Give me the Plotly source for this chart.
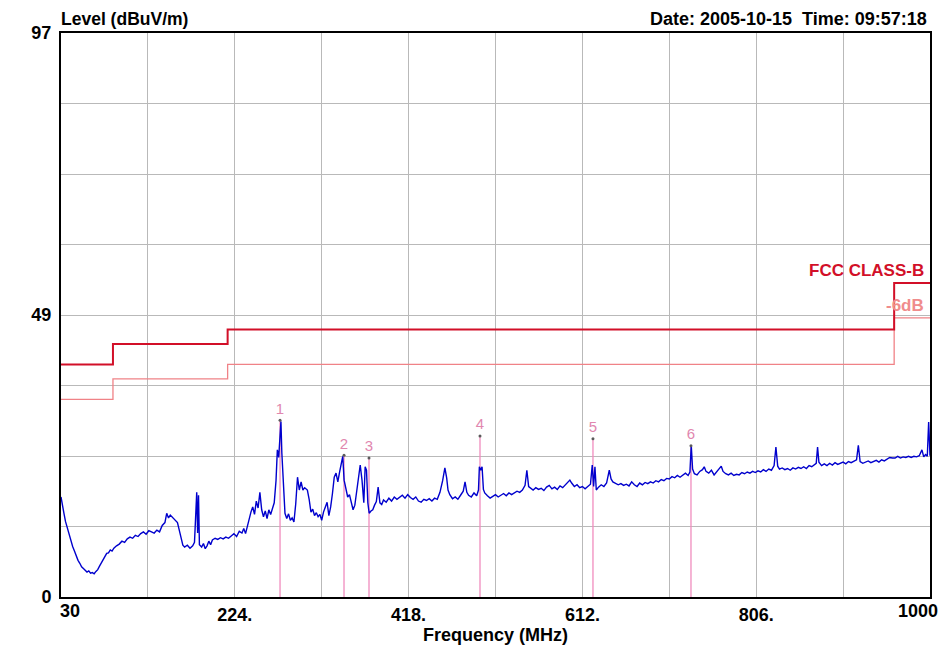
import plotly.graph_objects as go

# ---------------- data ----------------
spec_freq = [
    30, 31, 32, 33.5, 35, 37, 39, 41, 43, 45, 47, 49, 51, 53, 55, 57, 59, 61, 63, 65, 67, 69, 71, 73, 75, 77, 79, 81, 83, 85, 87, 89,
    92, 95, 98, 101, 104, 107, 110, 113, 116, 119, 122, 125, 128, 131, 134, 137, 140, 143, 146, 148, 150, 152, 154, 157, 160, 162,
    164, 166, 168, 171, 174, 177, 179, 180.5, 181.5, 182.5, 183.5, 184.5, 187, 189, 191, 193, 195, 197, 199, 202, 205, 208, 211,
    214, 217, 220, 223, 226, 229, 232, 234, 236, 238, 240, 242, 244, 246, 248, 250, 252, 254, 256, 258, 260, 262, 264, 266, 268,
    270, 271.5, 273, 274.5, 275.5, 276.5, 278, 280, 282, 284, 286, 288, 290, 292, 294, 296, 298, 300, 302, 305, 307, 309, 311,
    313, 315, 317, 319, 321, 323, 325, 327, 329, 331, 333, 335, 337, 339, 341, 343, 344.5, 346, 348, 350, 352, 354, 356, 358, 360,
    362, 364, 366, 368, 369.5, 371, 372.5, 374, 376, 378, 380, 382, 384, 386, 388, 390, 393, 396, 399, 402, 405, 408, 411, 414,
    417, 420, 423, 426, 429, 432, 435, 438, 441, 444, 447, 450, 453, 456, 458.5, 460.5, 462, 464, 467, 470, 473, 476, 479, 481,
    483, 485, 488, 491, 494, 496, 497, 498.5, 500, 501.5, 503, 506, 509, 512, 515, 518, 521, 524, 527, 530, 533, 536, 539, 542,
    545, 548, 550, 552, 554, 557, 560, 563, 566, 569, 572, 575, 578, 581, 584, 587, 590, 593, 596, 598, 600, 603, 606, 609, 612,
    615, 618, 621, 623, 624.5, 626, 627.5, 630, 633, 636, 639, 642, 644, 646, 649, 652, 655, 658, 661, 664, 667, 670, 673, 676,
    679, 682, 685, 688, 691, 694, 697, 700, 703, 706, 709, 712, 715, 718, 721, 724, 727, 730, 732, 733.5, 735, 737, 740, 743, 746,
    748, 750, 753, 756, 759, 762, 765, 767, 769, 772, 775, 778, 781, 784, 787, 790, 793, 796, 799, 802, 805, 808, 811, 814, 817,
    820, 823, 826, 828, 830, 832, 835, 838, 841, 844, 847, 850, 853, 856, 859, 862, 865, 868, 871, 873, 874.5, 876, 879, 882,
    885, 888, 891, 894, 897, 900, 903, 906, 909, 912, 915, 918, 920, 922, 925, 928, 931, 934, 937, 940, 943, 946, 949, 952, 955,
    958, 961, 964, 967, 970, 973, 976, 979, 982, 985, 988, 991, 993, 995, 997, 998.5, 1000,
]
spec_level = [
    17.2, 16.5, 15.5, 14.2, 13.0, 11.8, 10.6, 9.6, 8.7, 7.9, 7.0, 6.3, 5.8, 5.2, 4.9, 4.6, 4.3, 4.5, 4.1, 4.2, 4.0, 4.4, 4.7, 5.3,
    5.9, 6.4, 7.0, 7.5, 7.6, 8.1, 7.9, 8.4,
    8.8, 9.1, 9.6, 9.4, 10.0, 10.3, 10.1, 10.6, 10.4, 10.9, 11.2, 10.8, 11.4, 11.2, 11.0, 11.5, 11.2, 12.3, 12.8, 14.4, 13.6, 14.1,
    13.8, 13.2, 12.8, 11.5,
    10.0, 8.9, 8.6, 8.9, 8.4, 8.8, 9.4, 17.0, 18.0, 11.0, 17.5, 9.0, 8.6, 9.2, 8.3, 8.8, 9.6, 9.0, 9.8, 10.1, 9.9, 10.2, 10.0,
    10.3, 10.1, 10.5, 10.9, 10.4, 11.3, 11.0, 11.8, 10.9, 12.2, 13.2, 14.6, 15.5, 14.2, 16.5, 15.3, 18.0, 15.0, 13.8, 14.8, 13.5,
    15.0, 14.2, 15.4, 16.2,
    20.0, 25.3, 24.0, 29.5, 30.2, 24.8, 20.5, 14.4, 13.5, 14.3, 13.2, 13.6, 12.9, 16.0, 20.6, 18.4, 19.8, 18.4, 18.8, 18.4, 16.8,
    14.6, 15.1,
    14.0, 14.5, 13.8, 14.2, 13.2, 14.6, 15.5, 16.3, 14.0, 15.5, 17.8, 20.6, 21.3, 19.8, 21.5, 23.5, 24.2, 20.1, 18.6, 17.2, 17.6,
    16.2, 15.0, 15.8, 18.0,
    20.6, 22.7, 20.1, 16.2, 22.4, 21.8, 16.2, 14.4, 14.8, 15.0, 15.8, 16.4, 18.9, 16.2, 15.9, 16.7, 16.3, 17.0, 16.5, 17.2, 16.8,
    17.1, 17.5, 17.0,
    17.6, 17.1, 16.8, 17.2, 16.5, 16.3, 16.8, 16.6, 16.9, 16.5, 17.0, 16.8, 18.0, 20.0, 22.2, 20.5, 18.4, 17.6, 16.9, 17.2, 16.8,
    17.5, 18.2, 19.8,
    18.0, 17.5, 17.2, 17.9, 17.4, 18.4, 22.4, 21.8, 22.4, 18.5, 17.9, 17.4, 17.0, 17.3, 17.6, 17.2, 17.5, 17.8, 17.4, 17.9, 17.6,
    17.9, 18.2, 18.0,
    18.4, 19.2, 21.8, 19.0, 18.7, 18.4, 18.8, 18.5, 18.7, 18.3, 18.9, 19.2, 18.6, 18.9, 18.5, 19.1, 18.8, 19.3, 19.8, 20.1, 19.6,
    19.0, 19.3, 18.8, 19.0,
    18.6, 19.0, 19.4, 22.7, 19.0, 22.4, 18.4, 18.9, 19.3, 19.0, 19.6, 21.8, 20.3, 19.8, 19.6, 19.3, 19.5, 19.2, 19.4, 19.1, 19.8,
    19.3, 19.0, 19.6,
    19.3, 19.7, 19.5, 19.8, 19.6, 20.0, 19.8, 20.2, 20.0, 20.4, 20.3, 20.7, 20.5, 20.9, 20.6, 21.0, 21.3, 20.9, 21.5, 26.1, 22.0,
    21.2, 21.0, 21.6, 21.9,
    22.4, 21.6, 21.3, 21.8, 21.0, 21.5, 22.0, 22.5, 21.6, 21.2, 21.0, 21.3, 20.9, 21.1, 21.0, 21.4, 21.2, 21.5, 21.3, 21.6, 21.4,
    21.7, 21.5, 21.9, 21.6,
    22.0, 21.8, 22.6, 25.8, 22.5, 22.0, 22.2, 21.9, 22.1, 21.8, 22.2, 22.0, 22.3, 22.1, 22.4, 22.1, 22.6, 22.4, 22.8, 23.0, 25.8,
    23.2, 22.6, 22.9,
    22.6, 23.0, 22.7, 23.1, 22.8, 23.0, 23.2, 22.9, 23.3, 23.1, 23.4, 23.6, 26.1, 23.3, 23.0, 23.2, 23.4, 23.1, 23.3, 23.5, 23.2,
    23.6, 23.4, 23.7, 24.0,
    23.9, 23.9, 24.2, 23.9, 24.1, 24.0, 24.2, 24.0, 24.2, 24.1, 24.3, 25.3, 24.1, 24.5, 24.2, 30.1, 24.3,
]

limit_freq = [30, 88, 216, 960, 1000]
limit_level = [40.0, 43.5, 46.0, 54.0, 54.0]
margin_level = [34.0, 37.5, 40.0, 48.0, 48.0]

marker_freq = [274.5, 345.9, 373.8, 497.7, 623.8, 733.2]
marker_level = [30.4, 24.4, 23.9, 27.7, 27.2, 26.0]
marker_text = ["1", "2", "3", "4", "5", "6"]

x_grid_vals = [30, 127, 224, 321, 418, 515, 612, 709, 806, 903, 1000]
x_tick_text = ["", "", "224.", "", "418.", "", "612.", "", "806.", "", ""]
y_grid_vals = [0, 12.125, 24.25, 36.375, 48.5, 60.625, 72.75, 84.875, 97]
y_tick_text = ["0", "", "", "", "49", "", "", "", "97"]

# ---------------- figure ----------------
FONT = "Liberation Sans Narrow, Arial Narrow, Liberation Sans, Arial, sans-serif"
FONT_W = "Liberation Sans, Arial, sans-serif"

fig = go.Figure()

# marker vertical lines
mx, my = [], []
for f, l in zip(marker_freq, marker_level):
    mx += [f, f, None]
    my += [0, l, None]
fig.add_trace(go.Scatter(x=mx, y=my, mode="lines",
                         line=dict(color="rgb(240,140,190)", width=1.3),
                         hoverinfo="skip", showlegend=False))

# limit lines
fig.add_trace(go.Scatter(x=limit_freq, y=margin_level, mode="lines", line_shape="hv",
                         line=dict(color="rgb(240,130,135)", width=1.3), showlegend=False))
fig.add_trace(go.Scatter(x=limit_freq, y=limit_level, mode="lines", line_shape="hv",
                         line=dict(color="rgb(210,15,40)", width=2), showlegend=False))

# spectrum
fig.add_trace(go.Scatter(x=spec_freq, y=spec_level, mode="lines",
                         line=dict(color="rgb(0,0,205)", width=1.4), showlegend=False))

# marker labels and dots
fig.add_trace(go.Scatter(x=marker_freq, y=marker_level, mode="markers+text",
                         text=marker_text, textposition="top center",
                         textfont=dict(family=FONT_W, size=15, color="rgb(225,135,175)"),
                         marker=dict(size=3, color="rgb(90,90,90)"),
                         showlegend=False))

axis_common = dict(showline=True, linecolor="black", linewidth=2, mirror=True,
                   showgrid=True, gridcolor="rgb(185,185,185)", gridwidth=1,
                   zeroline=False, ticks="", automargin=False,
                   tickfont=dict(family=FONT, size=18, color="black", weight="bold"))

fig.update_xaxes(range=[30, 1000], tickmode="array", tickvals=x_grid_vals, ticktext=x_tick_text,
                 title=dict(text="Frequency (MHz)", standoff=3,
                            font=dict(family=FONT, size=18, color="black", weight="bold")),
                 **axis_common)
fig.update_yaxes(range=[0, 97], tickmode="array", tickvals=y_grid_vals, ticktext=y_tick_text,
                 ticklabelstandoff=4, **axis_common)

annos = [
    dict(x=0, y=1, xref="paper", yref="paper", xanchor="left", yanchor="bottom", yshift=2, xshift=-2,
         text="Level (dBuV/m)", showarrow=False,
         font=dict(family=FONT_W, size=17.5, color="black", weight="bold")),
    dict(x=1, y=1, xref="paper", yref="paper", xanchor="right", yanchor="bottom", yshift=2, xshift=-1,
         text="Date: 2005-10-15  Time: 09:57:18", showarrow=False,
         font=dict(family=FONT_W, size=18, color="black", weight="bold")),
    dict(x=30, y=0, xref="x", yref="paper", xanchor="left", yanchor="top", xshift=-3, yshift=-2,
         text="30", showarrow=False, font=dict(family=FONT, size=18, color="black", weight="bold")),
    dict(x=1000, y=0, xref="x", yref="paper", xanchor="right", yanchor="top", xshift=10, yshift=-2,
         text="1000", showarrow=False, font=dict(family=FONT, size=18, color="black", weight="bold")),
    dict(x=1000, y=limit_level[-1], xref="x", yref="y", xanchor="right", yanchor="bottom", xshift=-4, yshift=1,
         text="FCC CLASS-B", showarrow=False,
         font=dict(family=FONT_W, size=17, color="rgb(210,15,40)", weight="bold")),
    dict(x=1000, y=margin_level[-1], xref="x", yref="y", xanchor="right", yanchor="bottom", xshift=-4, yshift=1,
         text="-6dB", showarrow=False,
         font=dict(family=FONT_W, size=17, color="rgb(240,140,140)", weight="bold")),
]

fig.update_layout(width=944, height=645, margin=dict(l=61, r=14, t=33, b=48),
                  plot_bgcolor="white", paper_bgcolor="white", annotations=annos,
                  showlegend=False)

fig.write_html("out.html", config={"displayModeBar": False},
               post_script="document.body.style.margin='0';document.body.style.overflow='hidden';")
